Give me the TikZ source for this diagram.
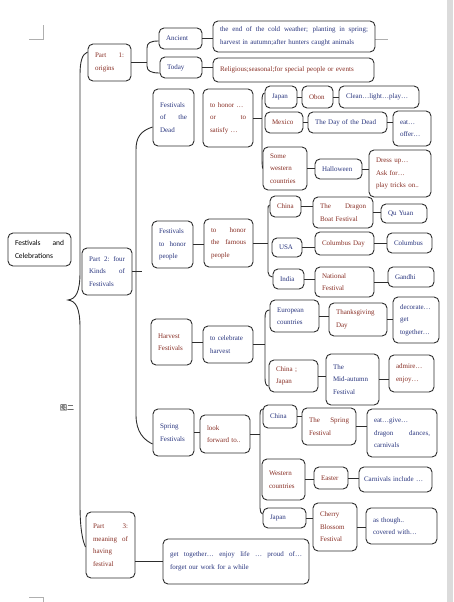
\documentclass[tikz,border=0pt]{standalone}
\usepackage{fontspec}
\setmainfont{Liberation Serif}
\newfontfamily\rootfont{Carlito}
\newfontfamily\cjkfont{Noto Sans CJK SC}
\usetikzlibrary{calc}
\definecolor{festline}{RGB}{45,45,45}
\definecolor{festblue}{RGB}{40,52,125}
\definecolor{festred}{RGB}{135,45,35}
\definecolor{festgray}{RGB}{175,175,175}
\newcommand{\spr}[1]{{\spaceskip=.3333em plus 20em\xspaceskip=\spaceskip\makebox[\linewidth][s]{#1}}}

\tikzset{
  box/.style={draw=festline, line width=0.9pt, rounded corners=5pt, inner xsep=7pt, inner ysep=1pt,
    align=left, text=festblue, font=\fontsize{7}{12.5}\selectfont},
  warm/.style={text=festred},
  link/.style={draw=festline, line width=0.9pt},
}

\begin{document}
\begin{tikzpicture}[x=1pt,y=-1pt]
\useasboundingbox (0,0) rectangle (453,602);
\fill[festgray!45] (447,0) rectangle (453,602);
% page corner marks
\draw[festgray,line width=0.6pt] (29,39) -- (43,39) -- (43,25);
\draw[festgray,line width=0.6pt] (375,39) -- (388,39);
\draw[festgray,line width=0.6pt] (29,597) -- (43,597) -- (43,602);

% root and parts
\node[box, text=black, font=\rootfont\fontsize{7.5}{13}\selectfont, text width=49pt, minimum height=33pt] (root) at (39.5,249.5) {\spr{Festivals and}\\Celebrations};
\node[box, warm, text width=29pt, minimum height=37pt] (part1) at (109.5,62.5) {\spr{Part 1:}\\origins};
\node[box, text width=36pt, minimum height=47pt] (part2) at (107,271.5) {\spr{Part 2: four}\\\spr{Kinds of}\\Festivals};
\node[box, warm, text width=35pt, minimum height=66pt] (part3) at (110.5,545) {\spr{Part 3:}\\\spr{meaning of}\\having\\festival};
\node[font=\cjkfont\fontsize{7}{8}\selectfont] (figlabel) at (67,407.5) {图二};

% part 1
\node[box, text width=29pt, minimum height=21pt] (ancient) at (180.5,38.5) {Ancient};
\node[box, text width=28pt, minimum height=21pt] (today) at (181,67.5) {Today};
\node[box, text width=148pt, minimum height=31pt] (origin1) at (294,36.5) {\spr{the end of the cold weather; planting in spring;}\\harvest in autumn;after hunters caught animals};
\node[box, warm, text width=147pt, minimum height=24pt] (origin2) at (293.5,70) {Religious;seasonal;for special people or events};

% part 2: four kinds
\node[box, text width=27pt, minimum height=57pt] (dead) at (173.5,117.5) {Festivals\\\spr{of the}\\Dead};
\node[box, warm, text width=36pt, minimum height=58pt] (deadwhy) at (228,118) {to honor …\\\spr{or to}\\satisfy …};
\node[box, text width=27pt, minimum height=47pt] (honor) at (172.5,244.5) {Festivals\\\spr{to honor}\\people};
\node[box, warm, text width=35pt, minimum height=48pt] (honorwhy) at (228.5,243) {\spr{to honor}\\\spr{the famous}\\people};
\node[box, warm, text width=27pt, minimum height=46pt] (harvest) at (171.5,342) {Harvest\\Festivals};
\node[box, text width=36pt, minimum height=37pt] (harvwhy) at (228,344.5) {to celebrate\\harvest};
\node[box, text width=27pt, minimum height=47pt] (spring) at (173.5,432.5) {Spring\\Festivals};
\node[box, warm, text width=36pt, minimum height=38pt] (springwhy) at (225,434) {look\\forward to..};

% festivals of the dead
\node[box, text width=18pt, minimum height=22pt] (japan1) at (281,97) {Japan};
\node[box, warm, text width=17pt, minimum height=22pt] (obon) at (317.5,97) {Obon};
\node[box, text width=66pt, minimum height=22pt] (obondo) at (379,97) {Clean…light…play…};
\node[box, warm, text width=24pt, minimum height=21pt] (mexico) at (284,122.5) {Mexico};
\node[box, text width=65pt, minimum height=21pt] (daydead) at (347.5,122.5) {The Day of the Dead};
\node[box, text width=24pt, minimum height=35pt] (daydo) at (412,128.5) {eat…\\offer…};
\node[box, warm, text width=30pt, minimum height=43pt] (western1) at (285,168.5) {Some\\western\\countries};
\node[box, text width=33pt, minimum height=20pt] (halloween) at (338.5,169) {Halloween};
\node[box, warm, text width=48pt, minimum height=47pt] (hallodo) at (400,173.5) {Dress up…\\Ask for…\\play tricks on..};

% festivals to honor people
\node[box, warm, text width=17pt, minimum height=21pt] (china1) at (285.5,206.5) {China};
\node[box, warm, text width=46pt, minimum height=31pt] (dragon) at (343,212.5) {\spr{The Dragon}\\Boat Festival};
\node[box, text width=32pt, minimum height=19pt] (quyuan) at (404,213.5) {Qu Yuan};
\node[box, text width=16pt, minimum height=19pt] (usa) at (287,247.5) {USA};
\node[box, warm, text width=45pt, minimum height=23pt] (colday) at (344.5,243.5) {Columbus Day};
\node[box, text width=31pt, minimum height=20pt] (columbus) at (409.5,243) {Columbus};
\node[box, text width=17pt, minimum height=20pt] (india) at (288.5,279) {India};
\node[box, warm, text width=45pt, minimum height=30pt] (national) at (344.5,282) {National\\Festival};
\node[box, text width=32pt, minimum height=20pt] (gandhi) at (411,277) {Gandhi};

% harvest festivals
\node[box, text width=35pt, minimum height=32pt] (europe) at (294.5,316) {European\\countries};
\node[box, warm, text width=44pt, minimum height=33pt] (thanks) at (358,319.5) {Thanksgiving\\Day};
\node[box, text width=32pt, minimum height=46pt] (thanksdo) at (416,320) {decorate…\\get\\together…};
\node[box, warm, text width=35pt, minimum height=32pt] (chinajp) at (293.5,376) {China ;\\Japan};
\node[box, text width=39pt, minimum height=51pt] (midautumn) at (352.5,379.5) {The\\Mid-autumn\\Festival};
\node[box, warm, text width=31pt, minimum height=37pt] (middo) at (411.5,373.5) {admire…\\enjoy…};

% spring festivals
\node[box, text width=20pt, minimum height=23pt] (china2) at (280,416.5) {China};
\node[box, warm, text width=40pt, minimum height=37pt] (springfest) at (329,426.5) {\spr{The Spring}\\Festival};
\node[box, text width=56pt, minimum height=48pt] (springdo) at (402,433) {eat…give…\\\spr{dragon dances,}\\carnivals};
\node[box, warm, text width=29pt, minimum height=41pt] (western2) at (283.5,479.5) {Western\\countries};
\node[box, warm, text width=20pt, minimum height=22pt] (easter) at (331,478) {Easter};
\node[box, inner xsep=5pt, text width=63pt, minimum height=25pt] (easterdo) at (395.5,479.5) {\mbox{Carnivals include …}};
\node[box, text width=29pt, minimum height=20pt] (japan2) at (284.5,518) {Japan};
\node[box, warm, text width=30pt, minimum height=48pt] (cherry) at (335,527) {Cherry\\Blossom\\Festival};
\node[box, text width=57pt, minimum height=36pt] (cherrydo) at (401.5,526) {as though..\\covered with…};

% part 3
\node[box, text width=132pt, minimum height=45pt] (meaning) at (236,561.5) {\spr{get together… enjoy life … proud of…}\\forget our work for a while};

% braces
\coordinate (tip) at (68,300);
\draw[link] ($(part1.west)+(0,-10.5)$) .. controls (82,54) and (80,62) .. (80,75) -- (80,272)
  .. controls (80,292) and (76,299) .. (tip) .. controls (76,301) and (80,308) .. (80,328) -- (80,505)
  .. controls (80,530) and (83,542) .. ($(part3.west)+(0,2)$);
\draw[link] (part1.east) -- (147,62.5);
\draw[link] ($(ancient.west)+(0,2.5)$) .. controls (150,41) and (147,43) .. (147,48) -- (147,66)
  .. controls (147,71) and (151,73) .. ($(today.west)+(0,5.5)$);
\draw[link] (part2.east) -- ++(10,0);
\draw[link] ($(dead.west)+(0,9.5)$) .. controls (140,131) and (136,138) .. (136,150) -- (136,415)
  .. controls (136,432) and (144,440) .. ($(spring.west)+(0,11.5)$);
\draw[link] (deadwhy.east) -- ++(9,0);
\draw[link] ($(japan1.west)+(0,-4)$) .. controls (263,93) and (262,96) .. (262,100) -- (262,160)
  .. controls (262,164) and (262.5,167) .. (western1.west);
\draw[link] (honorwhy.east) -- ++(15,0);
\draw[link] ($(china1.west)+(0,-1.5)$) .. controls (268,205) and (268,207) .. (268,211) -- (268,272)
  .. controls (268,275) and (270,277) .. ($(india.west)+(0,-2)$);
\draw[link] (harvwhy.east) -- ++(12,0);
\draw[link] ($(europe.west)+(0,-6)$) .. controls (266,310) and (265,313) .. (265,318) -- (265,378)
  .. controls (265,383) and (266,386) .. ($(chinajp.west)+(0,10)$);
\draw[link] (springwhy.east) -- ++(10,0);
\draw[link] ($(china2.west)+(0,-7.5)$) .. controls (261,409) and (260,411) .. (260,415) -- (260,508)
  .. controls (260,511) and (261,514) .. ($(japan2.west)+(0,-4)$);

% links
\draw[link] (ancient.east) -- (ancient.east -| origin1.west);
\draw[link] (today.east) -- (today.east -| origin2.west);
\draw[link] (honor.east) -- (honor.east -| honorwhy.west);
\draw[link] (harvest.east) -- (harvest.east -| harvwhy.west);
\draw[link] (spring.east) -- (spring.east -| springwhy.west);
\draw[link] (japan1.east) -- (japan1.east -| obon.west);
\draw[link] (obon.east) -- (obon.east -| obondo.west);
\draw[link] (mexico.east) -- (mexico.east -| daydead.west);
\draw[link] (daydead.east) -- (daydead.east -| daydo.west);
\draw[link] (western1.east) -- (western1.east -| halloween.west);
\draw[link] (halloween.east) -- (halloween.east -| hallodo.west);
\draw[link] (china1.east) -- (china1.east -| dragon.west);
\draw[link] (dragon.east) -- (dragon.east -| quyuan.west);
\draw[link] (usa.east) -- (usa.east -| colday.west);
\draw[link] (colday.east) -- (colday.east -| columbus.west);
\draw[link] (india.east) -- (india.east -| national.west);
\draw[link] (national.east) -- (national.east -| gandhi.west);
\draw[link] (europe.east) -- (europe.east -| thanks.west);
\draw[link] (thanks.east) -- (thanks.east -| thanksdo.west);
\draw[link] (chinajp.east) -- (chinajp.east -| midautumn.west);
\draw[link] (midautumn.east) -- (midautumn.east -| middo.west);
\draw[link] (china2.east) -- (china2.east -| springfest.west);
\draw[link] (springfest.east) -- (springfest.east -| springdo.west);
\draw[link] (western2.east) -- (western2.east -| easter.west);
\draw[link] (easter.east) -- (easter.east -| easterdo.west);
\draw[link] (japan2.east) -- (japan2.east -| cherry.west);
\draw[link] (cherry.east) -- (cherry.east -| cherrydo.west);
\draw[link] (meaning.west -| part3.east) -- (meaning.west);
\end{tikzpicture}
\end{document}
